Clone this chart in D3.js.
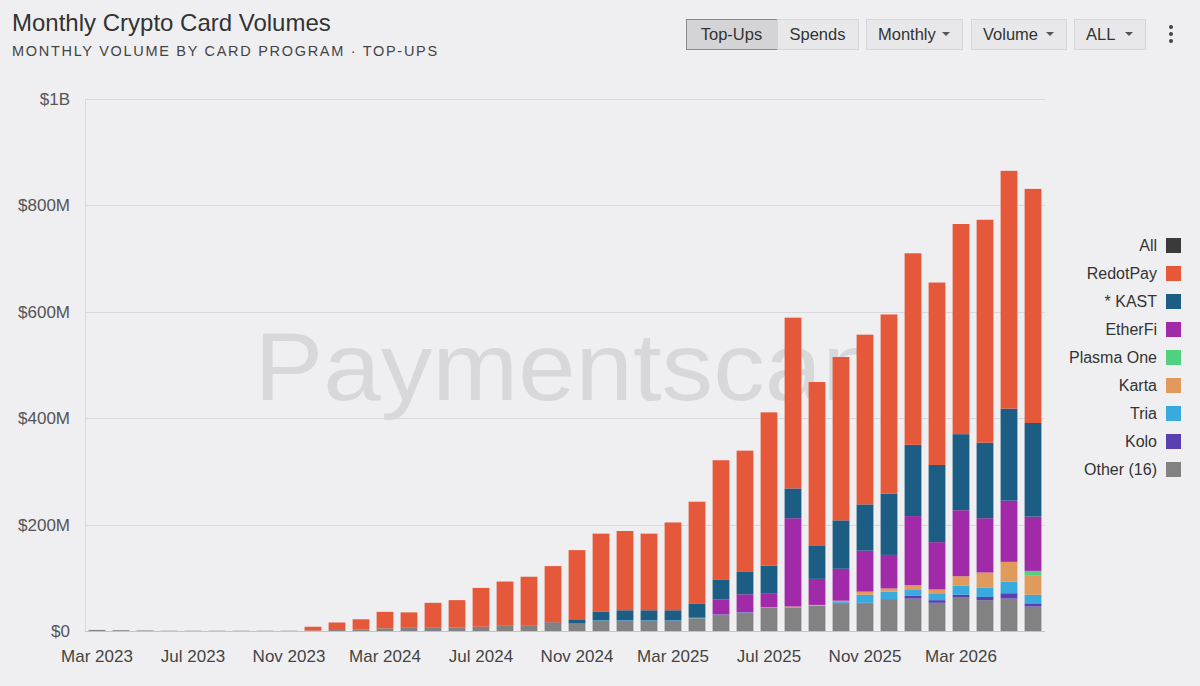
<!DOCTYPE html>
<html>
<head>
<meta charset="utf-8">
<script src="https://cdn.jsdelivr.net/npm/d3@7"></script>
<style>
  html, body { margin: 0; padding: 0; background: #efeff2; }
  svg { display: block; font-family: "Liberation Sans", Arial, sans-serif; }
</style>
</head>
<body>
<div id="chart"></div>
<script>
// months shown on the x axis (one bar each)
const months = [
  "Mar 2023","Apr 2023","May 2023","Jun 2023","Jul 2023","Aug 2023","Sep 2023","Oct 2023","Nov 2023","Dec 2023",
  "Jan 2024","Feb 2024","Mar 2024","Apr 2024","May 2024","Jun 2024","Jul 2024","Aug 2024","Sep 2024","Oct 2024",
  "Nov 2024","Dec 2024","Jan 2025","Feb 2025","Mar 2025","Apr 2025","May 2025","Jun 2025","Jul 2025","Aug 2025",
  "Sep 2025","Oct 2025","Nov 2025","Dec 2025","Jan 2026","Feb 2026","Mar 2026","Apr 2026","May 2026","Jun 2026"
];
const xTickLabels = ["Mar 2023","Jul 2023","Nov 2023","Mar 2024","Jul 2024","Nov 2024","Mar 2025","Jul 2025","Nov 2025","Mar 2026"];
const yTicks = [0, 200, 400, 600, 800, 1000];   // $M
const yTickLabels = ["$0", "$200M", "$400M", "$600M", "$800M", "$1B"];

// series values, $M per month
const other    = [2,1.5,1,0.5,0.5,0.5,0.5,0.5,0.5,1, 2,3,5,6,6,7,8,11,11,14, 14,19,19,19,19,24,30,34,44,44, 47,52,52,59,61,53,63,58,61,46];
const kolo     = [0,0,0,0,0,0,0,0,0,0, 0,0,0,0,0,0,0,0,0,0, 0,0,0,0,0,0,0,0,0,0, 0,1,1,1,5,5,5,6,10,6];
const tria     = [0,0,0,0,0,0,0,0,0,0, 0,0,0,0,0,0,0,0,0,0, 0,1,1,1,1,1,1,1,1,1, 1,3,15,14,11,13,17,18,22,16];
const karta    = [0,0,0,0,0,0,0,0,0,0, 0,0,0,0,0,0,0,0,0,0, 0,0,0,0,0,0,0,0,0,1, 1,1,6,6,9,7,18,28,37,37];
const plasma   = [0,0,0,0,0,0,0,0,0,0, 0,0,0,0,0,0,0,0,0,0, 0,0,0,0,0,0,0,0,0,0, 0,0,0,0,0,0,0,0,0,8];
const etherfi  = [0,0,0,0,0,0,0,0,0,0, 0,0,0,0,0,0,0,0,0,0, 0,0,0,0,0,0,28,34,25,166, 49,60,77,63,130,89,124,102,115,102];
const kast     = [0,0,0,0,0,0,0,0,0,0, 0,0,0,0,0,0,0,0,0,2, 8,16,19,19,19,26,38,42,53,56, 63,91,87,115,134,145,143,142,173,176];
const redotpay = [0,0,0,0,0,0,0,0,0,7, 14,19,31,29,47,51,73,82,91,106, 130,147,149,144,165,192,224,228,288,321, 307,307,319,337,360,343,395,419,447,440];

const seriesNames  = ["Other (16)", "Kolo", "Tria", "Karta", "Plasma One", "EtherFi", "* KAST", "RedotPay"];
const seriesValues = [other, kolo, tria, karta, plasma, etherfi, kast, redotpay];
const seriesColors = ["#828282", "#5a3fb0", "#3aa9dd", "#e09a5c", "#4fd17e", "#a12aa8", "#1c5d84", "#e5583a"];

const legendNames  = ["All", "RedotPay", "* KAST", "EtherFi", "Plasma One", "Karta", "Tria", "Kolo", "Other (16)"];
const legendColors = ["#3a3a3a", "#e5583a", "#1c5d84", "#a12aa8", "#4fd17e", "#e09a5c", "#3aa9dd", "#5a3fb0", "#828282"];

const width = 1200, height = 686;
const plot = { left: 85, right: 1045, top: 99, bottom: 631 };

const svg = d3.select("#chart").append("svg")
  .attr("width", width)
  .attr("height", height);

svg.append("rect").attr("width", width).attr("height", height).attr("fill", "#efeff2");

// header
svg.append("text")
  .attr("x", 12).attr("y", 31)
  .attr("font-size", 24).attr("fill", "#333")
  .text("Monthly Crypto Card Volumes");
svg.append("text")
  .attr("x", 12).attr("y", 56)
  .attr("font-size", 14.5).attr("fill", "#444")
  .attr("letter-spacing", 1.7)
  .text("MONTHLY VOLUME BY CARD PROGRAM · TOP-UPS");

// buttons in the top bar
const buttons = [
  { label: "Top-Ups", x: 686, w: 91, active: true, caret: false },
  { label: "Spends",  x: 777, w: 81, active: false, caret: false },
  { label: "Monthly", x: 866, w: 96, active: false, caret: true },
  { label: "Volume",  x: 971, w: 95, active: false, caret: true },
  { label: "ALL",     x: 1074, w: 71, active: false, caret: true }
];
const defs = svg.append("defs");
buttons.forEach((d, i) => {
  defs.append("clipPath").attr("id", "btnclip" + i)
    .append("rect").attr("x", d.x + 4).attr("y", 19)
    .attr("width", d.caret ? d.w - 30 : d.w - 8).attr("height", 31);
});
const btn = svg.append("g").selectAll("g").data(buttons).enter().append("g");
btn.append("rect")
  .attr("x", d => d.x + 0.5).attr("y", 19.5)
  .attr("width", d => d.w).attr("height", 30)
  .attr("fill", d => d.active ? "#d4d4d7" : "#e8e8eb")
  .attr("stroke", d => d.active ? "#8a8a8e" : "#d6d6da");
btn.append("text")
  .attr("clip-path", (d, i) => `url(#btnclip${i})`)
  .attr("x", d => d.caret ? d.x + 12 : d.x + d.w / 2)
  .attr("y", 40)
  .attr("text-anchor", d => d.caret ? "start" : "middle")
  .attr("font-size", 16.5).attr("fill", "#333")
  .text(d => d.label);
btn.filter(d => d.caret).append("path")
  .attr("d", d => `M${d.x + d.w - 20},32 l8,0 l-4,4 z`)
  .attr("fill", "#555");
svg.append("g").selectAll("circle").data([27, 34, 41]).enter().append("circle")
  .attr("cx", 1171).attr("cy", d => d).attr("r", 2).attr("fill", "#444");

// scales
const x = d3.scaleBand().domain(months).range([plot.left, plot.right]).paddingInner(0.3).paddingOuter(0.15);
const y = d3.scaleLinear().domain([0, 1000]).range([plot.bottom, plot.top]);

// grid lines
svg.append("g").selectAll("line").data(yTicks.slice(1)).enter().append("line")
  .attr("x1", plot.left).attr("x2", plot.right)
  .attr("y1", d => Math.round(y(d)) + 0.5).attr("y2", d => Math.round(y(d)) + 0.5)
  .attr("stroke", "#d9d9dd");
svg.append("line")
  .attr("x1", plot.left + 0.5).attr("x2", plot.left + 0.5)
  .attr("y1", plot.top).attr("y2", plot.bottom)
  .attr("stroke", "#d9d9dd");

// watermark
svg.append("text")
  .attr("x", 567).attr("y", 400)
  .attr("text-anchor", "middle")
  .attr("font-size", 96)
  .attr("textLength", 625).attr("lengthAdjust", "spacingAndGlyphs")
  .attr("fill", "#d8d8da")
  .text("Paymentscan");

// stacked bars
const table = months.map((m, i) => {
  const row = { month: m };
  seriesNames.forEach((s, k) => { row[s] = seriesValues[k][i]; });
  return row;
});
const stacked = d3.stack().keys(seriesNames)(table);

svg.append("g").selectAll("g")
  .data(stacked).enter().append("g")
  .attr("fill", (d, k) => seriesColors[k])
  .selectAll("rect")
  .data(d => d).enter().append("rect")
  .attr("x", d => x(d.data.month))
  .attr("width", x.bandwidth())
  .attr("y", d => y(d[1]))
  .attr("height", d => Math.max(0, y(d[0]) - y(d[1])));

// baseline
svg.append("line")
  .attr("x1", plot.left).attr("x2", plot.right)
  .attr("y1", plot.bottom + 0.5).attr("y2", plot.bottom + 0.5)
  .attr("stroke", "#c4c4c8");

// y axis labels
const yAxis = d3.axisLeft(y).tickValues(yTicks).tickSize(0).tickPadding(15)
  .tickFormat((d, i) => yTickLabels[i]);
svg.append("g")
  .attr("transform", `translate(${plot.left},0)`)
  .call(yAxis)
  .call(g => g.select(".domain").remove())
  .call(g => g.selectAll("text").attr("font-size", 17).attr("fill", "#555")
    .attr("font-family", "Liberation Sans, Arial, sans-serif"));

// x axis labels
const xAxis = d3.axisBottom(x).tickValues(xTickLabels).tickSize(0).tickPadding(19);
svg.append("g")
  .attr("transform", `translate(0,${plot.bottom})`)
  .call(xAxis)
  .call(g => g.select(".domain").remove())
  .call(g => g.selectAll("text").attr("font-size", 17).attr("fill", "#444")
    .attr("font-family", "Liberation Sans, Arial, sans-serif"));

// legend
const legend = svg.append("g").selectAll("g")
  .data(legendNames).enter().append("g")
  .attr("transform", (d, i) => `translate(0,${245 + i * 28})`);
legend.append("rect")
  .attr("x", 1166).attr("y", -7).attr("width", 15).attr("height", 15)
  .attr("fill", (d, i) => legendColors[i]);
legend.append("text")
  .attr("x", 1157).attr("y", 6)
  .attr("text-anchor", "end")
  .attr("font-size", 16).attr("fill", "#333")
  .text(d => d);
</script>
</body>
</html>
